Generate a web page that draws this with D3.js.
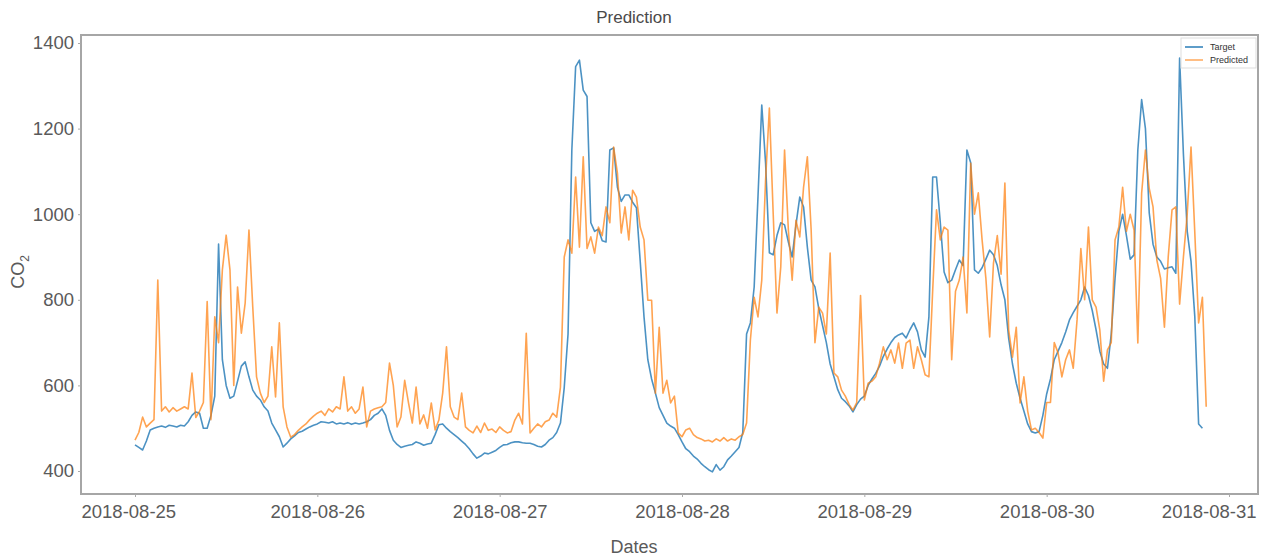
<!DOCTYPE html>
<html><head><meta charset="utf-8">
<script src="https://cdn.jsdelivr.net/npm/d3@7"></script>
<style>
body{margin:0;background:#fff;}
svg text{font-family:"Liberation Sans",Arial,Helvetica,sans-serif;}
</style>
</head><body>
<svg id="chart" width="1269" height="560"></svg>
<script>
// ---- data (30-minute samples starting 2018-08-25 00:00) ----
const startTime = "2018-08-25 00:00";
const stepMinutes = 30;
const target = [
461,455,449,470,496,500,503,505,502,507,505,503,507,505,515,530,538,535,500,500,530,575,930,660,600,570,575,610,645,655,620,589,575,566,550,540,512,496,480,456,465,475,482,490,493,498,503,507,
510,515,514,512,515,510,512,510,513,509,512,510,512,515,520,530,535,545,530,495,472,462,455,458,460,462,468,465,460,463,465,485,508,510,500,492,485,478,470,462,452,440,430,435,442,440,444,448,
455,461,462,466,468,468,466,465,465,462,458,456,462,472,478,490,512,595,720,1150,1345,1360,1290,1275,980,960,965,938,935,1150,1155,1063,1030,1045,1045,1028,1015,890,760,660,615,582,548,530,512,505,500,485,
468,452,445,435,428,418,410,403,398,415,402,410,426,435,445,455,490,720,746,830,1040,1255,1120,910,905,950,980,975,935,900,975,1040,1017,923,846,830,780,740,700,650,620,590,570,562,552,538,555,568,
575,600,615,628,645,668,685,700,712,718,722,711,730,746,725,683,666,760,1087,1087,980,865,840,846,870,893,880,1150,1120,870,862,875,895,916,905,880,835,800,710,650,605,570,540,510,492,489,492,530,
580,615,660,680,700,725,753,770,785,800,830,810,775,730,680,650,640,720,850,960,1000,950,895,905,1150,1268,1200,1003,930,900,890,872,875,877,862,1365,1140,960,890,760,510,500
];
const predicted = [
472,490,526,503,512,520,846,540,550,538,548,540,545,550,545,629,525,540,560,796,520,760,700,870,951,870,600,830,722,792,963,783,620,582,560,575,690,573,746,550,503,479,485,495,503,510,520,528,
535,540,530,545,538,550,545,620,540,550,535,545,596,503,540,545,548,550,560,652,600,503,526,612,559,512,596,510,531,500,559,496,519,582,690,550,526,520,582,503,495,489,505,490,512,495,498,490,
503,495,489,492,519,535,510,722,489,500,510,503,515,519,535,526,596,900,940,909,1087,923,1134,920,947,909,970,950,1017,980,1157,1096,956,1017,940,1056,1040,970,940,799,799,582,736,582,612,559,575,489,
480,496,500,485,478,475,470,472,468,475,470,478,470,475,472,480,485,512,706,806,760,846,1080,1248,1003,769,877,1150,963,846,986,947,1063,1134,963,700,783,769,720,909,629,620,589,575,555,542,560,810,
566,605,610,620,652,690,660,683,652,699,640,699,706,640,690,660,625,620,823,1010,940,970,963,660,820,846,900,769,1119,1000,1050,940,850,713,886,950,860,1073,729,666,736,559,620,540,496,500,490,477,
560,560,700,676,620,660,683,640,753,920,800,970,800,783,729,610,683,700,940,970,1063,960,1000,963,699,1049,1150,1060,1017,893,850,736,900,1010,1017,790,900,1000,1157,956,746,806,550
];
const seriesNames = ["Target", "Predicted"];
const seriesColors = ["#1f77b4", "#ff7f0e"];
const xTickLabels = ["2018-08-25","2018-08-26","2018-08-27","2018-08-28","2018-08-29","2018-08-30","2018-08-31"];
const yTicks = [400, 600, 800, 1000, 1200, 1400];

// ---- layout ----
const svg = d3.select("#chart");
const frame = {left: 81, right: 1258, top: 35, bottom: 494};
const parseDay = d3.timeParse("%Y-%m-%d");
const parseStart = d3.timeParse("%Y-%m-%d %H:%M");
const t0 = parseStart(startTime);
const tickDates = xTickLabels.map(parseDay);

const x = d3.scaleTime().domain([tickDates[0], tickDates[tickDates.length-1]]).range([135, 1229]);
const y = d3.scaleLinear().domain([400, 1400]).range([471, 43]);

const timeOf = i => d3.timeMinute.offset(t0, i * stepMinutes);

// frame
svg.append("rect")
  .attr("x", frame.left).attr("y", frame.top)
  .attr("width", frame.right - frame.left).attr("height", frame.bottom - frame.top)
  .attr("fill", "none").attr("stroke", "#a6a6a6").attr("stroke-width", 2);

// lines
const line = d3.line().x((d, i) => x(timeOf(i))).y(d => y(d)).curve(d3.curveLinear);
const g = svg.append("g");
g.append("path").datum(target).attr("d", line)
  .attr("fill", "none").attr("stroke", seriesColors[0]).attr("stroke-width", 1.6)
  .attr("stroke-opacity", 0.8).attr("stroke-linejoin", "round");
g.append("path").datum(predicted).attr("d", line)
  .attr("fill", "none").attr("stroke", seriesColors[1]).attr("stroke-width", 1.6)
  .attr("stroke-opacity", 0.72).attr("stroke-linejoin", "round");

// axes
const yAxis = svg.append("g").attr("transform", `translate(${frame.left},0)`)
  .call(d3.axisLeft(y).tickValues(yTicks).tickSize(3).tickPadding(4).tickFormat(d3.format("d")));
const xAxis = svg.append("g").attr("transform", `translate(0,${frame.bottom})`)
  .call(d3.axisBottom(x).tickValues(tickDates).tickSize(3).tickPadding(8).tickFormat(d3.timeFormat("%Y-%m-%d")));
[yAxis, xAxis].forEach(a => {
  a.select(".domain").remove();
  a.selectAll(".tick line").attr("stroke", "#aaa");
  a.selectAll(".tick text").attr("fill", "#5a5a5a").style("font-size", "18.5px");
});
// keep first/last date labels inside the frame, as in the reference
const xt = xAxis.selectAll(".tick text").nodes();
d3.select(xt[0]).attr("text-anchor", "start").attr("x", frame.left - x(tickDates[0]));
d3.select(xt[xt.length-1]).attr("text-anchor", "end").attr("x", frame.right - 2 - x(tickDates[tickDates.length-1]));

// titles
svg.append("text").attr("x", 634).attr("y", 23).attr("text-anchor", "middle")
  .attr("fill", "#4a4a4a").style("font-size", "17px").text("Prediction");
svg.append("text").attr("x", 634).attr("y", 553).attr("text-anchor", "middle")
  .attr("fill", "#5a5a5a").style("font-size", "18px").text("Dates");
const yl = svg.append("text").attr("transform", "translate(24,272) rotate(-90)")
  .attr("text-anchor", "middle").attr("fill", "#5a5a5a").style("font-size", "18px");
yl.append("tspan").text("CO");
yl.append("tspan").attr("dy", 5).style("font-size", "12px").text("2");

// legend
const lg = svg.append("g").attr("transform", "translate(1181,38)");
lg.append("rect").attr("width", 75).attr("height", 30).attr("fill", "#fff")
  .attr("fill-opacity", 0.8).attr("stroke", "#ddd").attr("stroke-width", 1);
seriesNames.forEach((name, k) => {
  const yy = 9 + k * 13;
  lg.append("line").attr("x1", 4).attr("x2", 22).attr("y1", yy).attr("y2", yy)
    .attr("stroke", seriesColors[k]).attr("stroke-width", 1.7).attr("stroke-opacity", k ? 0.6 : 0.85);
  lg.append("text").attr("x", 29).attr("y", yy + 3).attr("fill", "#333")
    .style("font-size", "9px").text(name);
});
</script>
</body></html>
